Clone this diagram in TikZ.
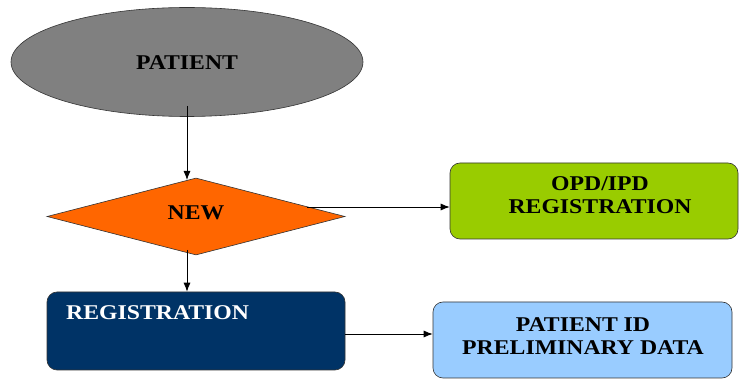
\documentclass[tikz,border=0pt]{standalone}
\usepackage{fontspec}
\setmainfont{Liberation Serif}[FakeStretch=1.13]
\usetikzlibrary{shapes.geometric,arrows.meta,calc}
\definecolor{patgray}{HTML}{808080}
\definecolor{neworange}{HTML}{FF6600}
\definecolor{regnavy}{HTML}{003366}
\definecolor{opdgreen}{HTML}{99CC00}
\definecolor{idblue}{HTML}{99CCFF}
\begin{document}
\begin{tikzpicture}[x=1pt,y=-1pt,
  every node/.style={font=\fontsize{21}{23}\selectfont\bfseries},
  lbl/.style={align=center, inner sep=0pt},
  arr/.style={draw=black, line width=0.8pt, -{Latex[length=9pt,width=7pt]}},
  rbox/.style={draw=black!80, line width=0.6pt, rounded corners=10pt, inner sep=0pt, align=center}]
\useasboundingbox (0,0) rectangle (740,379);
\node[ellipse, draw=black!80, line width=0.6pt, fill=patgray, minimum width=352pt, minimum height=109pt, inner sep=0pt] (pat) at (187,62) {};
\node[lbl] (patt) at (187,63) {PATIENT};
\node[diamond, draw=black!80, line width=0.6pt, fill=neworange, minimum width=298pt, minimum height=77pt, aspect=3.87, inner sep=0pt] (dia) at (196,216.5) {};
\node[lbl] (newt) at (196,213) {NEW};
\node[rbox, fill=regnavy, minimum width=298pt, minimum height=78pt] (reg) at (196,331) {};
\node[lbl, text=white, anchor=west] (regt) at (66,313) {REGISTRATION};
\node[rbox, fill=opdgreen, minimum width=288pt, minimum height=76pt] (opd) at (594,201) {};
\node[lbl] (opdt) at (600,195) {OPD/IPD\\REGISTRATION};
\node[rbox, fill=idblue, minimum width=299pt, minimum height=76pt] (pid) at (582.5,340) {};
\node[lbl] (pidt) at (583,336.5) {PATIENT ID\\PRELIMINARY DATA};
\coordinate (c1) at (187,106);
\coordinate (c2) at (187,180);
\coordinate (c3) at (187,250);
\coordinate (c4) at (307,207);
\draw[arr] (c1) -- (c2);
\draw[arr] (c3) -- (c3 |- reg.north);
\draw[arr] (c4) -- (c4 -| opd.west);
\draw[arr] ([yshift=-3pt]reg.east) -- ([yshift=-3pt]reg.east -| pid.west);
\end{tikzpicture}
\end{document}
